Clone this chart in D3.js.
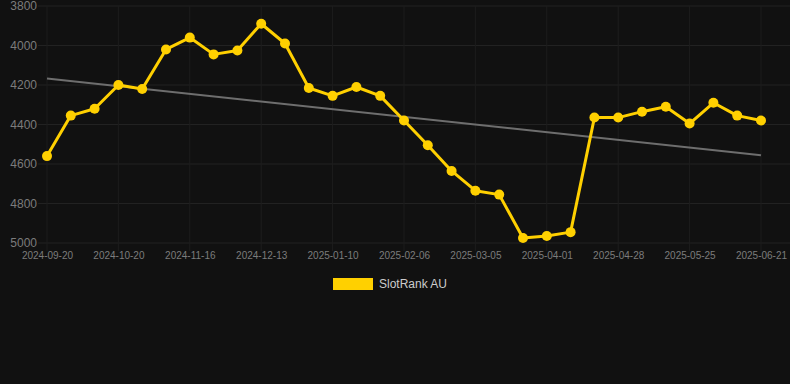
<!DOCTYPE html>
<html>
<head>
<meta charset="utf-8">
<script src="https://cdn.jsdelivr.net/npm/d3@7"></script>
<style>
  html, body { margin: 0; padding: 0; background: #111111; }
  svg { display: block; font-family: Arial, "Liberation Sans", sans-serif; }
</style>
</head>
<body>
<div id="chart"></div>
<script>
// dates on the x axis (category axis, every third one is labelled)
var dates = [
  "2024-09-20","2024-09-30","2024-10-10","2024-10-20","2024-10-29","2024-11-07",
  "2024-11-16","2024-11-25","2024-12-04","2024-12-13","2024-12-22","2025-01-01",
  "2025-01-10","2025-01-19","2025-01-28","2025-02-06","2025-02-15","2025-02-24",
  "2025-03-05","2025-03-14","2025-03-23","2025-04-01","2025-04-10","2025-04-19",
  "2025-04-28","2025-05-07","2025-05-16","2025-05-25","2025-06-03","2025-06-12",
  "2025-06-21"
];
var rank = [
  4560, 4355, 4320, 4200, 4220, 4020, 3960, 4045, 4025, 3890, 3990,
  4215, 4255, 4210, 4255, 4380, 4505, 4635, 4735, 4755, 4975, 4965,
  4945, 4365, 4365, 4335, 4310, 4395, 4290, 4355, 4380
];
var yTicks = [3800, 4000, 4200, 4400, 4600, 4800, 5000];
var seriesName = "SlotRank AU";

window.onload = function(){
	var w = 790, h = 384;

	var svg = d3.select("#chart")
		.append("svg")
		.attr("width", w)
		.attr("height", h)
		.style("background-color", "#111111");

	var x = d3.scalePoint()
		.domain(dates)
		.range([47, 761]);

	// rank axis goes downwards: 3800 on top
	var y = d3.scaleLinear()
		.domain([3800, 5000])
		.range([6, 243]);

	var labelled = dates.filter(function(d, i){ return i % 3 === 0; });

	// grid
	var grid = svg.append("g");
	grid.selectAll(".hgrid")
		.data(yTicks)
		.enter().append("line")
			.attr("x1", 38).attr("x2", 790)
			.attr("y1", function(d){ return y(d); })
			.attr("y2", function(d){ return y(d); })
			.attr("stroke", "#222")
			.attr("stroke-width", 1);
	grid.selectAll(".vgrid")
		.data(labelled)
		.enter().append("line")
			.attr("x1", function(d){ return x(d); })
			.attr("x2", function(d){ return x(d); })
			.attr("y1", 6).attr("y2", 251)
			.attr("stroke", "#1d1d1d")
			.attr("stroke-width", 1);

	// y axis labels
	var yAxis = d3.axisLeft(y).tickValues(yTicks).tickFormat(d3.format("d")).tickSize(0).tickPadding(0);
	var gy = svg.append("g")
		.attr("transform", "translate(37,0)")
		.call(yAxis);
	gy.select(".domain").remove();
	gy.selectAll("text")
		.attr("fill", "#7c7c7c")
		.style("font-size", "12px")
		.style("font-family", "Arial, 'Liberation Sans', sans-serif");

	// x axis labels
	var xAxis = d3.axisBottom(x).tickValues(labelled).tickSize(0).tickPadding(0);
	var gx = svg.append("g")
		.attr("transform", "translate(0,252)")
		.call(xAxis);
	gx.select(".domain").remove();
	gx.selectAll("text")
		.attr("fill", "#7c7c7c")
		.style("font-size", "10px")
		.style("font-family", "Arial, 'Liberation Sans', sans-serif");

	// trend line (least squares over the series)
	var n = rank.length;
	var mx = d3.mean(rank, function(d, i){ return i; });
	var my = d3.mean(rank);
	var sxy = d3.sum(rank, function(d, i){ return (i - mx) * (d - my); });
	var sxx = d3.sum(rank, function(d, i){ return (i - mx) * (i - mx); });
	var slope = sxy / sxx;
	var icpt = my - slope * mx;
	svg.append("line")
		.attr("x1", x(dates[0]))
		.attr("y1", y(icpt))
		.attr("x2", x(dates[n - 1]))
		.attr("y2", y(icpt + slope * (n - 1)))
		.attr("stroke", "#6e6e6e")
		.attr("stroke-width", 2);

	// series
	var line = d3.line()
		.x(function(d, i){ return x(dates[i]); })
		.y(function(d){ return y(d); });

	svg.append("path")
		.datum(rank)
		.attr("d", line)
		.attr("fill", "none")
		.attr("stroke", "#ffd000")
		.attr("stroke-width", 3)
		.attr("stroke-linejoin", "round");

	svg.append("g")
		.selectAll("circle")
		.data(rank)
		.enter().append("circle")
			.attr("cx", function(d, i){ return x(dates[i]); })
			.attr("cy", function(d){ return y(d); })
			.attr("r", 5)
			.attr("fill", "#ffd000");

	// legend
	var legend = svg.append("g");
	legend.append("rect")
		.attr("x", 333).attr("y", 278)
		.attr("width", 40).attr("height", 12)
		.attr("fill", "#ffd000");
	legend.append("text")
		.attr("x", 379).attr("y", 284)
		.attr("dy", "0.35em")
		.attr("fill", "#cccccc")
		.style("font-size", "12px")
		.text(seriesName);
}
</script>
</body>
</html>
